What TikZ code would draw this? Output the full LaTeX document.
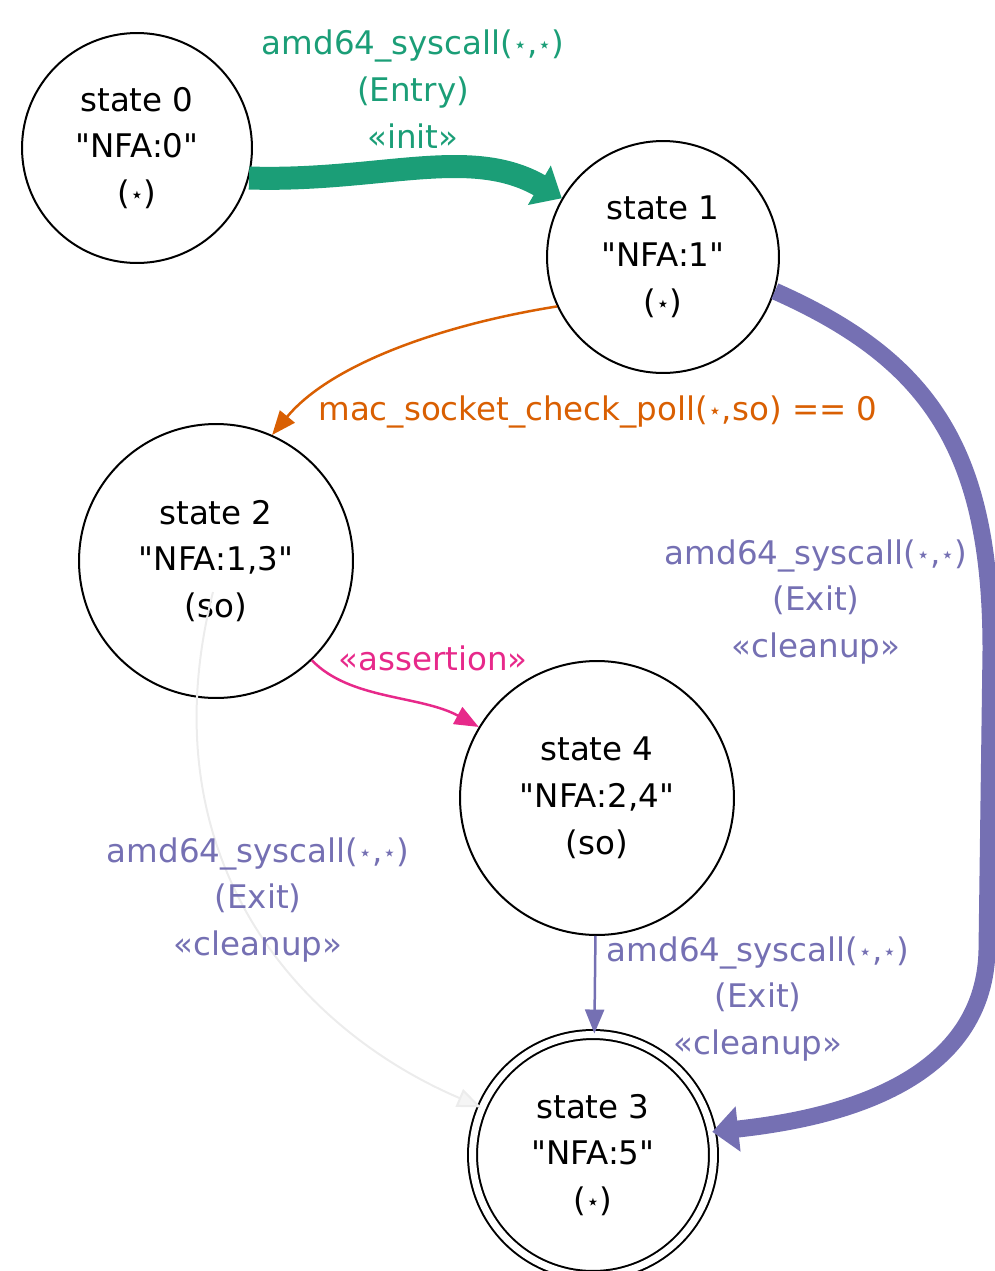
\documentclass[tikz,border=0pt]{standalone}
\usepackage{fontspec}
\setmainfont{DejaVu Sans}[Ligatures=TeXOff]
\usetikzlibrary{arrows.meta}

\definecolor{initgreen}{HTML}{1B9E77}
\definecolor{pollorange}{HTML}{D95F02}
\definecolor{exitpurple}{HTML}{7570B3}
\definecolor{assertpink}{HTML}{E7298A}
\newcommand{\sst}{\raisebox{0.12ex}{\scalebox{0.68}{⋆}}}

\begin{document}
\begin{tikzpicture}[x=0.02cm, y=-0.02cm,
  every node/.style={font=\fontsize{18.5}{26.6}\selectfont, align=center},
  state/.style={circle, draw, line width=0.04cm, inner sep=0pt},
  final/.style={state, double, double distance=0.14cm},
  thinedge/.style={line width=0.05cm, -{Triangle[length=0.48cm, width=0.38cm]}},
  fatedge/.style={-{Triangle[length=0.52cm, width=0.88cm]}}]
  \useasboundingbox (0,0) rectangle (994,1271);

  % states
  \node[state, minimum size=4.6cm] (s0) at (137,148) {state 0\\"NFA:0"\\(\sst)};
  \node[state, minimum size=4.64cm] (s1) at (663,257) {state 1\\"NFA:1"\\(\sst)};
  \node[state, minimum size=5.48cm] (s2) at (216,561) {state 2\\"NFA:1,3"\\(so)};
  \node[state, minimum size=5.48cm] (s4) at (597,798) {state 4\\"NFA:2,4"\\(so)};
  \node[final, minimum size=4.82cm] (s3) at (593,1155) {state 3\\"NFA:5"\\(\sst)};
  \coordinate (s2tail) at (213,592);

  % transitions
  \draw[fatedge, initgreen, line width=0.46cm]
    (s0.-15) .. controls (380,182) and (470,145) .. (s1);
  \draw[thinedge, pollorange]
    (s1.205) .. controls (440,325) and (330,365) .. (s2.66);
  \draw[fatedge, exitpurple, line width=0.34cm]
    (s1.-17) .. controls (930,360) and (991,450) .. (991,650)
    -- (987,950) .. controls (984,1090) and (820,1120) .. (s3.11);
  \draw[thinedge, assertpink]
    (s2.-46) .. controls (350,700) and (420,695) .. (s4.149);
  \draw[line width=0.04cm, gray!15,
    -{Triangle[length=0.48cm, width=0.38cm, fill=gray!8]}]
    (s2tail) .. controls (145,860) and (300,1030) .. (s3);
  \draw[thinedge, exitpurple] (s4) -- (s3);

  % labels
  \node[text=initgreen] (l01) at (413,89)
    {amd64\_syscall(\sst,\sst)\\(Entry)\\«init»};
  \node[text=pollorange] (l12) at (598,412)
    {mac\_socket\_check\_poll(\sst,so) == 0};
  \node[text=exitpurple] (l13) at (816,602)
    {amd64\_syscall(\sst,\sst)\\(Exit)\\«cleanup»};
  \node[text=assertpink] (l24) at (433,658) {«assertion»};
  \node[text=exitpurple] (l23) at (258,900)
    {amd64\_syscall(\sst,\sst)\\(Exit)\\«cleanup»};
  \node[text=exitpurple] (l43) at (758,999)
    {amd64\_syscall(\sst,\sst)\\(Exit)\\«cleanup»};
\end{tikzpicture}
\end{document}
